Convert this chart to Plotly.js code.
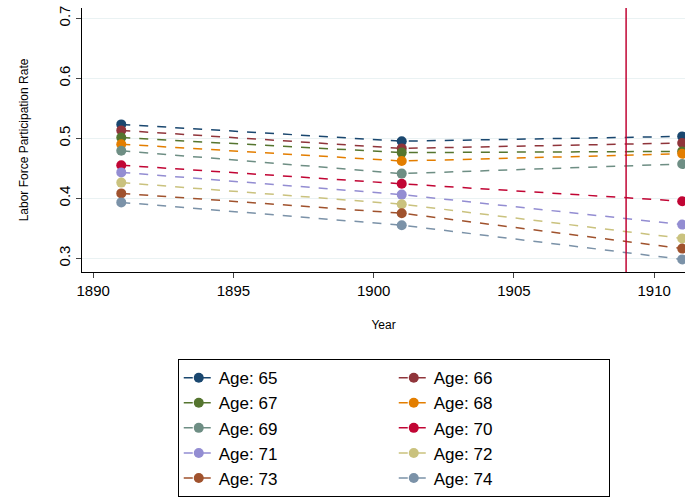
<!DOCTYPE html>
<html><head><script src="https://cdn.plot.ly/plotly-3.0.1.min.js"></script>
<style>body{margin:0}</style></head><body>
<div id="c" style="width:685px;height:503px"></div>
<script>
const years = [1891, 1901, 1911];
const ages = ["Age: 65","Age: 66","Age: 67","Age: 68","Age: 69","Age: 70","Age: 71","Age: 72","Age: 73","Age: 74"];
const age65 = [0.523, 0.495, 0.503];
const age66 = [0.513, 0.483, 0.492];
const age67 = [0.501, 0.476, 0.478];
const age68 = [0.490, 0.462, 0.474];
const age69 = [0.479, 0.441, 0.457];
const age70 = [0.455, 0.424, 0.395];
const age71 = [0.443, 0.406, 0.356];
const age72 = [0.426, 0.390, 0.333];
const age73 = [0.408, 0.375, 0.316];
const age74 = [0.393, 0.355, 0.298];
const series = [age65,age66,age67,age68,age69,age70,age71,age72,age73,age74];
const colors = ["#1a476f","#90353b","#55752f","#e37e00","#6e8e84","#c10534","#938dd2","#cac27e","#a0522d","#7b92a8"];
const vline = 1909;
const traces = series.map((s,i)=>({x:years,y:s,name:ages[i],mode:"lines+markers",
  line:{color:colors[i],dash:"dash",width:1.5},marker:{color:colors[i],size:10}}));
Plotly.newPlot("c",traces,{
  width:685,height:503,paper_bgcolor:"#fff",plot_bgcolor:"#fff",
  margin:{l:82,r:0,t:8,b:231},
  font:{family:"Liberation Sans, Arial",color:"#000"},
  xaxis:{range:[1889.6,1911.1],tickvals:[1890,1895,1900,1905,1910],showgrid:false,zeroline:false,automargin:false,
    showline:true,linecolor:"#000",ticks:"outside",ticklen:5,tickfont:{size:15},
    title:{text:"Year",font:{size:12},standoff:22}},
  yaxis:{range:[0.277,0.717],tickvals:[0.3,0.4,0.5,0.6,0.7],tickformat:".1f",tickangle:-90,automargin:false,
    gridcolor:"#eaf2f3",zeroline:false,showline:true,linecolor:"#000",ticks:"outside",ticklen:5,
    tickfont:{size:15},title:{text:"Labor Force Participation Rate",font:{size:12},standoff:24}},
  shapes:[{type:"line",xref:"x",yref:"paper",x0:vline,x1:vline,y0:0,y1:1,line:{color:"#c10534",width:1.5}}],
  legend:{orientation:"h",x:0.517,xanchor:"center",y:-0.33,yanchor:"top",entrywidth:170,
    bordercolor:"#000",borderwidth:1,font:{size:17},traceorder:"normal",tracegroupgap:0},
  showlegend:true
},{displayModeBar:false});
</script></body></html>
